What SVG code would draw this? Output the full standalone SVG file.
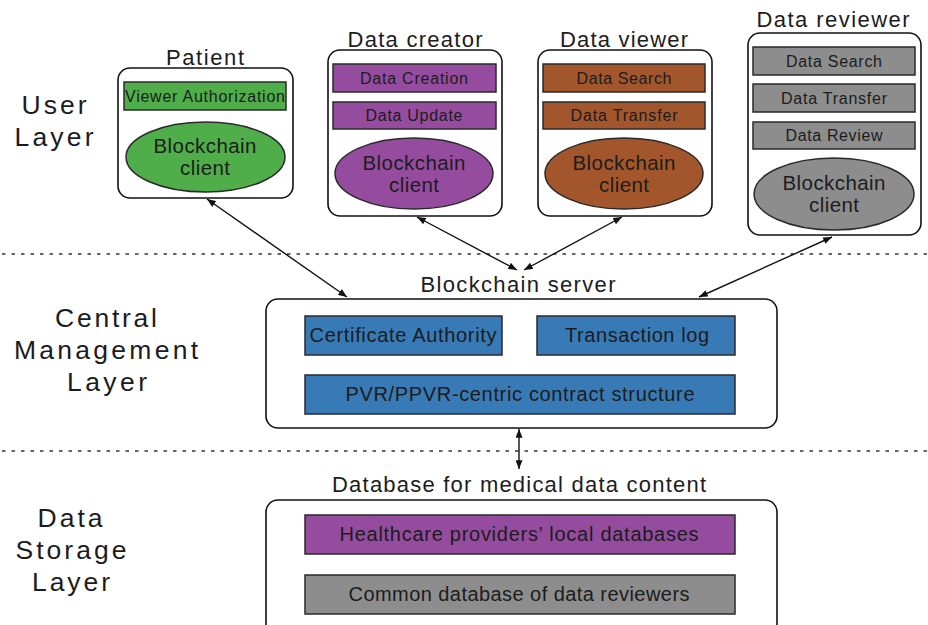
<svg xmlns="http://www.w3.org/2000/svg" width="928" height="625" viewBox="0 0 928 625">
<style>
text{font-family:"Liberation Sans",Arial,sans-serif;fill:#1c1c1c;text-anchor:middle}
.box{fill:#fff;stroke:#111;stroke-width:1.6}
.sub{stroke:#2a2a2a;stroke-width:1.5}
.green{fill:#4fae4a}.purple{fill:#954c9f}.brown{fill:#a3562b}.gray{fill:#8d8d8d}.blue{fill:#387ab6}
.layer{font-size:26.5px}
.title{font-size:22px}
.small{font-size:16px}
.ell{font-size:20.5px}
.mid{font-size:20px}
.dot{stroke:#333;stroke-width:1.5;stroke-dasharray:3.5 6}
.conn{stroke:#111;stroke-width:1.4;fill:none;marker-start:url(#ah);marker-end:url(#ah)}
</style>
<defs>
<marker id="ah" viewBox="0 0 10 8" refX="10" refY="4" markerWidth="9" markerHeight="7" markerUnits="userSpaceOnUse" orient="auto-start-reverse">
<path d="M0,0 L10,4 L0,8 Z" fill="#111"/>
</marker>
</defs>
<rect width="928" height="625" fill="#fff"/>

<g id="layer-labels">
<text class="layer" x="54" y="114" textLength="65" lengthAdjust="spacing">User</text>
<text class="layer" x="54" y="146" textLength="79" lengthAdjust="spacing">Layer</text>
<text class="layer" x="106" y="327" textLength="102" lengthAdjust="spacing">Central</text>
<text class="layer" x="106" y="359" textLength="184" lengthAdjust="spacing">Management</text>
<text class="layer" x="107" y="391" textLength="80" lengthAdjust="spacing">Layer</text>
<text class="layer" x="70" y="527" textLength="65" lengthAdjust="spacing">Data</text>
<text class="layer" x="71" y="559" textLength="111" lengthAdjust="spacing">Storage</text>
<text class="layer" x="71" y="591" textLength="78" lengthAdjust="spacing">Layer</text>
</g>

<g id="separators">
<line class="dot" x1="2" y1="254" x2="928" y2="254"/>
<line class="dot" x1="2" y1="451" x2="928" y2="451"/>
</g>

<g id="patient">
<text class="title" x="205" y="65" textLength="78" lengthAdjust="spacing">Patient</text>
<rect class="box" x="118" y="68" width="175" height="130" rx="12"/>
<rect class="sub green" x="124" y="82" width="162" height="28"/>
<text class="small" x="205" y="102" textLength="160" lengthAdjust="spacing">Viewer Authorization</text>
<ellipse class="sub green" cx="205.5" cy="157" rx="79.5" ry="35"/>
<text class="ell" x="205" y="153" textLength="103" lengthAdjust="spacing">Blockchain</text>
<text class="ell" x="205" y="175" textLength="50" lengthAdjust="spacing">client</text>
</g>

<g id="data-creator">
<text class="title" x="415" y="47" textLength="135" lengthAdjust="spacing">Data creator</text>
<rect class="box" x="328" y="50" width="174" height="166" rx="12"/>
<rect class="sub purple" x="333" y="64" width="163" height="28"/>
<text class="small" x="414" y="84" textLength="108" lengthAdjust="spacing">Data Creation</text>
<rect class="sub purple" x="333" y="102" width="163" height="27"/>
<text class="small" x="414" y="121" textLength="97" lengthAdjust="spacing">Data Update</text>
<ellipse class="sub purple" cx="414" cy="173.5" rx="79" ry="35.5"/>
<text class="ell" x="414" y="170" textLength="103" lengthAdjust="spacing">Blockchain</text>
<text class="ell" x="414" y="192" textLength="50" lengthAdjust="spacing">client</text>
</g>

<g id="data-viewer">
<text class="title" x="624" y="47" textLength="128" lengthAdjust="spacing">Data viewer</text>
<rect class="box" x="538" y="50" width="174" height="166" rx="12"/>
<rect class="sub brown" x="543" y="64" width="162" height="28"/>
<text class="small" x="624" y="84" textLength="95" lengthAdjust="spacing">Data Search</text>
<rect class="sub brown" x="543" y="102" width="162" height="27"/>
<text class="small" x="624" y="121" textLength="107" lengthAdjust="spacing">Data Transfer</text>
<ellipse class="sub brown" cx="624" cy="173.5" rx="79" ry="35.5"/>
<text class="ell" x="624" y="170" textLength="103" lengthAdjust="spacing">Blockchain</text>
<text class="ell" x="624" y="192" textLength="50" lengthAdjust="spacing">client</text>
</g>

<g id="data-reviewer">
<text class="title" x="833" y="27" textLength="153" lengthAdjust="spacing">Data reviewer</text>
<rect class="box" x="748" y="33" width="173" height="202" rx="12"/>
<rect class="sub gray" x="753" y="47" width="162" height="28"/>
<text class="small" x="834" y="67" textLength="96" lengthAdjust="spacing">Data Search</text>
<rect class="sub gray" x="753" y="84" width="162" height="28"/>
<text class="small" x="834" y="104" textLength="106" lengthAdjust="spacing">Data Transfer</text>
<rect class="sub gray" x="753" y="122" width="162" height="27"/>
<text class="small" x="834" y="141" textLength="97" lengthAdjust="spacing">Data Review</text>
<ellipse class="sub gray" cx="834" cy="194" rx="80" ry="36"/>
<text class="ell" x="834" y="190" textLength="103" lengthAdjust="spacing">Blockchain</text>
<text class="ell" x="834" y="212" textLength="50" lengthAdjust="spacing">client</text>
</g>

<g id="blockchain-server">
<text class="title" x="518" y="292" textLength="195" lengthAdjust="spacing">Blockchain server</text>
<rect class="box" x="266" y="299" width="511" height="129" rx="12"/>
<rect class="sub blue" x="305" y="316" width="197" height="39"/>
<text class="mid" x="403" y="342" textLength="187" lengthAdjust="spacing">Certificate Authority</text>
<rect class="sub blue" x="537" y="316" width="198" height="39"/>
<text class="mid" x="637" y="342" textLength="144" lengthAdjust="spacing">Transaction log</text>
<rect class="sub blue" x="305" y="375" width="430" height="39"/>
<text class="mid" x="520" y="401" textLength="349" lengthAdjust="spacing">PVR/PPVR-centric contract structure</text>
</g>

<g id="database">
<text class="title" x="519" y="492" textLength="374" lengthAdjust="spacing">Database for medical data content</text>
<rect class="box" x="266" y="500" width="511" height="140" rx="12"/>
<rect class="sub purple" x="305" y="515" width="430" height="39"/>
<text class="mid" x="519" y="541" textLength="359" lengthAdjust="spacing">Healthcare providers’ local databases</text>
<rect class="sub gray" x="305" y="575" width="430" height="39"/>
<text class="mid" x="519" y="601" textLength="341" lengthAdjust="spacing">Common database of data reviewers</text>
</g>

<g id="connectors">
<line class="conn" x1="207" y1="199" x2="347" y2="297"/>
<line class="conn" x1="417" y1="217" x2="517" y2="270"/>
<line class="conn" x1="622" y1="217" x2="524" y2="270"/>
<line class="conn" x1="832" y1="237" x2="699" y2="297"/>
<line class="conn" x1="519" y1="429" x2="519" y2="469"/>
</g>
</svg>
